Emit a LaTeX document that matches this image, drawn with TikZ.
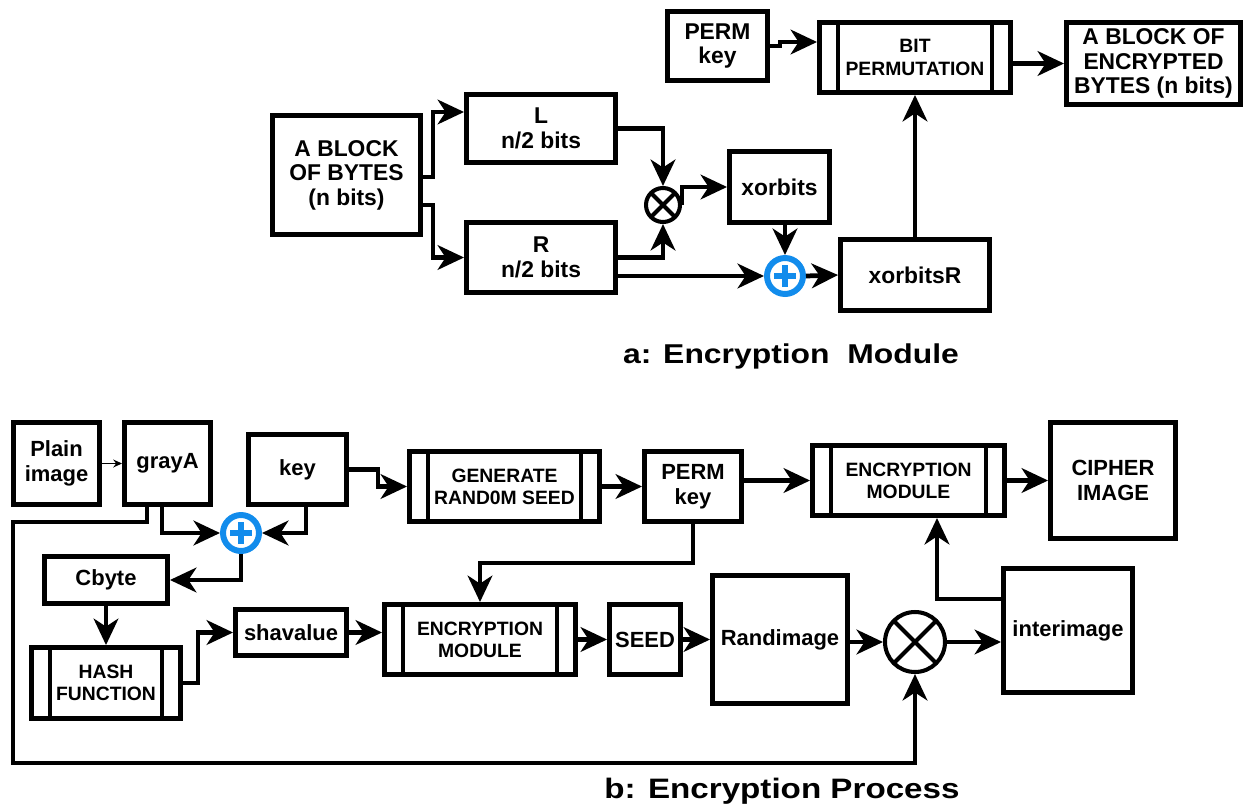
\documentclass[tikz,border=0pt]{standalone}
\usepackage{fontspec}
\setmainfont{Liberation Sans}
\usepackage{graphicx}
\usetikzlibrary{arrows.meta}

\definecolor{xorblue}{RGB}{18,140,236}

\tikzset{
  box/.style={draw, line width=2.8pt, align=center, inner sep=0pt,
    font=\bfseries\fontsize{12.5}{14}\selectfont},
  boxa/.style={box, font=\bfseries\fontsize{13}{14}\selectfont},
  sz/.style 2 args={minimum width=#1*0.02cm, minimum height=#2*0.02cm},
  proc/.style={box, font=\bfseries\fontsize{11}{12.6}\selectfont,
    path picture={
      \draw[line width=2.6pt]
        ([xshift=0.37cm]path picture bounding box.north west) -- ([xshift=0.37cm]path picture bounding box.south west)
        ([xshift=-0.37cm]path picture bounding box.north east) -- ([xshift=-0.37cm]path picture bounding box.south east);}},
  xorop/.style={circle, draw=xorblue, fill=white, line width=3.4pt,
    minimum size=0.72cm, inner sep=0pt,
    path picture={
      \draw[xorblue, line width=3.4pt]
        ([xshift=-0.22cm]path picture bounding box.center) -- ([xshift=0.22cm]path picture bounding box.center)
        ([yshift=-0.22cm]path picture bounding box.center) -- ([yshift=0.22cm]path picture bounding box.center);}},
  mulop/.style={circle, draw, line width=2.3pt, inner sep=0pt,
    path picture={
      \draw[line width=2.3pt]
        (path picture bounding box.north west) -- (path picture bounding box.south east)
        (path picture bounding box.north east) -- (path picture bounding box.south west);}},
  conn/.style={line width=2.7pt, -{Stealth[length=15pt, width=14pt, inset=4.5pt]}},
}

\begin{document}
\begin{tikzpicture}[x=0.02cm, y=-0.02cm]
  \useasboundingbox (0,0) rectangle (1247,808);

  % a: the module
  \node[boxa, sz={148}{119}] (blk) at (346.5,175) {A BLOCK\\OF BYTES\\(n bits)};
  \node[boxa, sz={149}{68}] (lft) at (541,128.5) {L\\n/2 bits};
  \node[boxa, sz={149}{70}] (rgt) at (541,257.5) {R\\n/2 bits};
  \node[mulop, minimum size=0.68cm] (mula) at (663,205) {};
  \node[boxa, sz={100}{71}] (xb) at (779.5,187) {xorbits};
  \node[xorop] (xora) at (785,276) {};
  \node[boxa, sz={149}{71}] (xbr) at (915,275) {xorbitsR};
  \node[boxa, sz={100}{69}] (pka) at (717.5,46) {PERM\\key};
  \node[proc, sz={191}{70}] (bitp) at (915,57.5) {BIT\\PERMUTATION};
  \node[boxa, sz={174}{82}] (encblk) at (1153.5,63.5) {A BLOCK OF\\ENCRYPTED\\BYTES (n bits)};

  \draw[conn] (blk.east |- 0,177) -- ++(10,0) |- (lft.west |- 0,112);
  \draw[conn] (blk.east |- 0,205) -- ++(10,0) |- (rgt.west);
  \draw[conn] (lft.east) -| (mula.north);
  \draw[conn] (rgt.east) -| (mula.south);
  \draw[conn] (rgt.east |- xora) -- (xora.west);
  \draw[conn] (mula.east) |- (xb.west);
  \draw[conn] (xb.south -| xora) -- (xora.north);
  \draw[conn] (xora.east) -- (xbr.west);
  \draw[conn] (xbr.north) -- (bitp.south);
  \draw[conn] (pka.east) -- ++(10,0) |- (bitp.west |- 0,42);
  \draw[conn] (bitp.east |- encblk) -- (encblk.west);

  \node[font=\bfseries\fontsize{15.5}{18}\selectfont, anchor=base] (capa) at (791,363)
    {\scalebox{1.17}[1]{a: Encryption\ \ Module}};

  % b: the process
  \node[box, sz={86}{82}] (plain) at (56.5,463.5) {Plain\\image};
  \node[box, sz={86}{82}] (gray) at (167.5,463.5) {grayA};
  \node[box, sz={98}{70}] (key) at (297.5,469.5) {key};
  \node[proc, sz={190}{70}] (gen) at (504.5,486.5) {GENERATE\\RAND0M SEED};
  \node[box, sz={97}{70}] (pkb) at (693,486.5) {PERM\\key};
  \node[proc, sz={192}{70}] (encb) at (908.5,480.5) {ENCRYPTION\\MODULE};
  \node[box, sz={125}{116}] (ciph) at (1113,480.5) {CIPHER\\IMAGE};
  \node[xorop] (xorb) at (241,533) {};
  \node[box, sz={123}{47}] (cbyte) at (106,580) {Cbyte};
  \node[proc, sz={149}{71}] (hash) at (106,683) {HASH\\FUNCTION};
  \node[box, sz={111}{46}] (sha) at (291,632.5) {shavalue};
  \node[proc, sz={191}{70}] (encl) at (480,639.5) {ENCRYPTION\\MODULE};
  \node[box, sz={71}{70}] (seed) at (645,639.5) {SEED};
  \node[box, sz={135}{128}] (rand) at (780,639.5) {Randimage};
  \node[mulop, minimum size=1.2cm] (mulb) at (915,642) {};
  \node[box, sz={129}{124}] (inter) at (1068,630.5) {interimage};

  \draw[line width=0.8pt, -{Stealth[length=5pt, width=4.5pt]}] (plain.east) -- (gray.west);
  \draw[conn] (gray.south -| 162,0) |- (xorb.west);
  \draw[conn] (key.south -| 306,0) |- (xorb.east);
  \draw[conn] (xorb.south) |- (cbyte.east);
  \draw[conn] (cbyte.south) -- (hash.north);
  \draw[conn] (hash.east) -- ++(15,0) |- (sha.west);
  \draw[conn] (sha.east) -- (sha.east -| encl.west);
  \draw[conn] (encl.east) -- (seed.west);
  \draw[conn] (seed.east) -- (seed.east -| rand.west);
  \draw[conn] (rand.east |- mulb) -- (mulb.west);
  \draw[conn] (mulb.east) -- (mulb.east -| inter.west);
  \draw[conn] (inter.west |- 0,599) -| (encb.south -| 937,0);
  \draw[conn] (encb.east) -- (ciph.west);
  \draw[conn] (pkb.east |- encb) -- (encb.west);
  \draw[conn] (gen.east) -- (pkb.west);
  \draw[conn] (key.east) -- ++(29,0) |- (gen.west);
  \draw[conn] (pkb.south) -- ++(0,39) -| (encl.north);
  \draw[conn] (gray.south -| 147,0) |- (13,522) -- (13,763) -| (mulb.south);

  \node[font=\bfseries\fontsize{16}{19}\selectfont, anchor=base] (capb) at (782,798)
    {\scalebox{1.18}[1]{b: Encryption Process}};
\end{tikzpicture}
\end{document}
